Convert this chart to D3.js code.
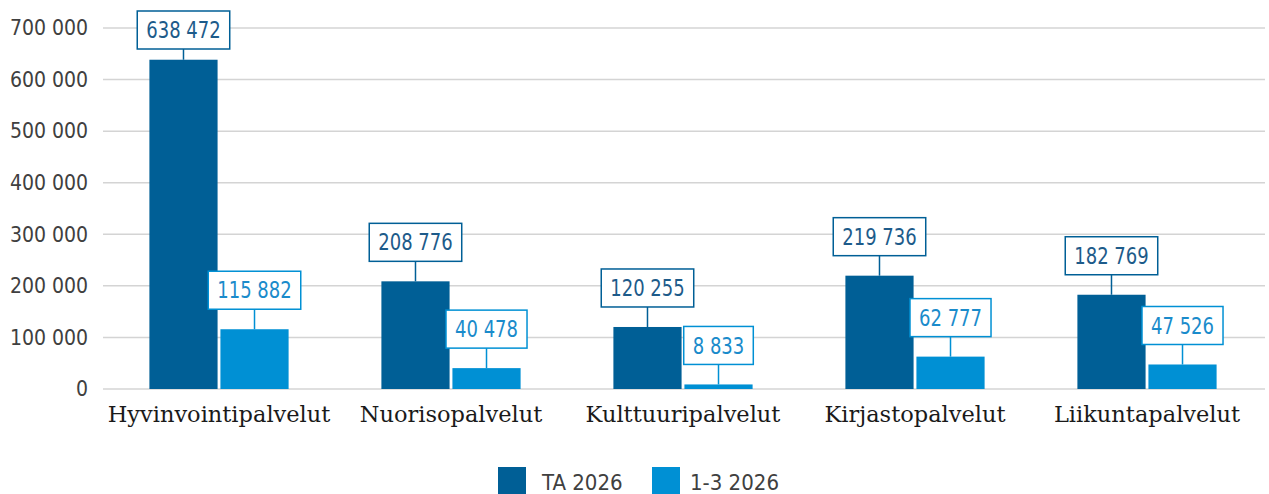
<!DOCTYPE html>
<html>
<head>
<meta charset="utf-8">
<script src="https://cdn.jsdelivr.net/npm/d3@7"></script>
<style>
  body { margin: 0; background: #fff; }
  svg { display: block; }
</style>
</head>
<body>
<div id="chart"></div>
<script>
const categories = ['Hyvinvointipalvelut', 'Nuorisopalvelut', 'Kulttuuripalvelut', 'Kirjastopalvelut', 'Liikuntapalvelut']
const seriesNames = ['TA 2026', '1-3 2026']
const taValues = [638472, 208776, 120255, 219736, 182769]
const q1Values = [115882, 40478, 8833, 62777, 47526]
const yTicks = [0, 100000, 200000, 300000, 400000, 500000, 600000, 700000]

const W = 1269, H = 494
const colors = ['#005f96', '#0090d4']
const textColors = ['#1d5b8a', '#1a8bcb']
const sansFont = '"DejaVu Sans Condensed", "Liberation Sans", sans-serif'
const serifFont = '"DejaVu Serif", serif'

const fmt = v => d3.format(',')(v).replace(/,/g, ' ')

const rows = categories.map((c, i) => ({ cat: c, vals: [taValues[i], q1Values[i]] }))

const svg = d3.select('#chart').append('svg')
  .attr('width', W).attr('height', H)

const x0 = d3.scaleBand().domain(categories).range([103, 1263]).padding(0)
const x1 = d3.scaleBand().domain([0, 1])
  .range([x0.bandwidth() * 0.2, x0.bandwidth() * 0.8]).paddingInner(0.04)
const y = d3.scaleLinear().domain([0, 700000]).range([389, 28])

// grid
svg.append('g').selectAll('line').data(yTicks).enter().append('line')
  .attr('x1', 103).attr('x2', 1265)
  .attr('y1', d => y(d)).attr('y2', d => y(d))
  .attr('stroke', '#d4d4d4').attr('stroke-width', 1.5)

// y axis labels
const yAxis = svg.append('g')
  .attr('transform', 'translate(88,0)')
  .call(d3.axisLeft(y).tickValues(yTicks).tickFormat(fmt).tickSize(0).tickPadding(0))
yAxis.select('.domain').remove()
yAxis.selectAll('text')
  .attr('fill', '#404040')
  .style('font-family', sansFont)
  .style('font-size', '21px')

// bars
const groups = svg.append('g').selectAll('g').data(rows).enter().append('g')
  .attr('transform', d => `translate(${x0(d.cat)},0)`)

groups.selectAll('rect').data(d => d.vals.map((v, s) => ({ v, s }))).enter().append('rect')
  .attr('x', d => x1(d.s))
  .attr('width', x1.bandwidth())
  .attr('y', d => y(d.v))
  .attr('height', d => y(0) - y(d.v))
  .attr('fill', d => colors[d.s])

// value labels with callout boxes
const boxH = 38, gap = 20
groups.each(function(row) {
  const g = d3.select(this)
  row.vals.forEach((v, s) => {
    const cx = x1(s) + x1.bandwidth() / 2
    const top = y(v)
    let bottom = top - gap
    if (bottom - boxH < 11) bottom = 11 + boxH
    const lab = g.append('g')
    const t = lab.append('text')
      .attr('x', cx).attr('y', bottom - boxH / 2)
      .attr('dy', '0.36em')
      .attr('text-anchor', 'middle')
      .attr('fill', textColors[s])
      .style('font-family', sansFont)
      .style('font-size', '22.5px')
      .text(fmt(v))
    const tw = t.node().getComputedTextLength() * 0.89
    t.attr('textLength', tw).attr('lengthAdjust', 'spacingAndGlyphs')
    const bw = tw + 18
    lab.insert('rect', 'text')
      .attr('x', cx - bw / 2).attr('y', bottom - boxH)
      .attr('width', bw).attr('height', boxH)
      .attr('fill', '#fff')
      .attr('stroke', colors[s]).attr('stroke-width', 1.5)
    lab.insert('line', 'rect')
      .attr('x1', cx).attr('x2', cx)
      .attr('y1', bottom).attr('y2', top)
      .attr('stroke', colors[s]).attr('stroke-width', 1.5)
  })
})

// category labels
svg.append('g').selectAll('text').data(categories).enter().append('text')
  .attr('x', d => x0(d) + x0.bandwidth() / 2)
  .attr('y', 422)
  .attr('text-anchor', 'middle')
  .attr('fill', '#1a1a1a')
  .style('font-family', serifFont)
  .style('font-size', '22.5px')
  .text(d => d)

// legend
const legend = svg.append('g')
const legItems = [{ x: 498, tx: 542 }, { x: 652, tx: 690 }]
seriesNames.forEach((n, i) => {
  legend.append('rect')
    .attr('x', legItems[i].x).attr('y', 467)
    .attr('width', 28).attr('height', 28)
    .attr('fill', colors[i])
  legend.append('text')
    .attr('x', legItems[i].tx).attr('y', 490)
    .attr('fill', '#404040')
    .style('font-family', sansFont)
    .style('font-size', '22px')
    .text(n)
})
</script>
</body>
</html>
